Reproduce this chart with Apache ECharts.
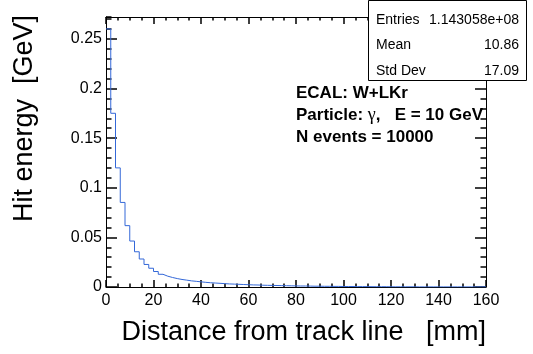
<!DOCTYPE html>
<html>
<head>
<meta charset="utf-8">
<script src="https://cdn.jsdelivr.net/npm/echarts@6/dist/echarts.min.js"></script>
<style>
  html, body { margin: 0; padding: 0; background: #ffffff; }
  #chart { width: 533px; height: 354px; }
</style>
</head>
<body>
<div id="chart"></div>
<script>
// Hit energy deposited per 2 mm bin of distance from the track line (0..160 mm)
const binWidth = 2;
const hitEnergy = [
  0.2600, 0.1750, 0.1200, 0.0852, 0.0618, 0.0463, 0.0355, 0.0282, 0.0227, 0.0189,
  0.0156, 0.0128, 0.0109, 0.0096, 0.0085, 0.0076, 0.0069, 0.0062, 0.0057, 0.0052,
  0.0047, 0.0043, 0.0040, 0.0037, 0.0034, 0.0031, 0.0029, 0.0027, 0.0025, 0.0023,
  0.0021, 0.0020, 0.0018, 0.0017, 0.0016, 0.0015, 0.0014, 0.0013, 0.0012, 0.0011,
  0.0010, 0.0010, 0.0009, 0.0008, 0.0008, 0.0007, 0.0007, 0.0006, 0.0006, 0.0005,
  0.0005, 0.0005, 0.0004, 0.0004, 0.0004, 0.0003, 0.0003, 0.0003, 0.0003, 0.0002,
  0.0002, 0.0002, 0.0002, 0.0002, 0.0002, 0.0001, 0.0001, 0.0001, 0.0001, 0.0001,
  0.0001, 0.0001, 0.0001, 0.0001, 0.0001, 0.0001, 0.0001, 0.0001, 0.0001, 0.0001
];

const xRange = [0, 160];
const yRange = [0, 0.272];
const xTickStep = 20;
const yTickStep = 0.05;
const yMinorStep = 0.01;

const xTitle = 'Distance from track line   [mm]';
const yTitle = 'Hit energy  [GeV]';

const statNames = ['Entries', 'Mean', 'Std Dev'];
const statValues = ['1.143058e+08', '10.86', '17.09'];

const FONT = '"Liberation Sans", Arial, Helvetica, sans-serif';
const lineColor = '#3468d8';
const tickColor = '#000000';
const tickWidth = 1.5;

// step outline: each bin's left edge carries its content, closed at the last upper edge
const outline = hitEnergy.map((v, i) => [i * binWidth, v]);
outline.push([hitEnergy.length * binWidth, hitEnergy[hitEnergy.length - 1]]);

const chart = echarts.init(document.getElementById('chart'));

function xAxisDef(pos, labels) {
  return {
    type: 'value', position: pos, min: xRange[0], max: xRange[1], interval: xTickStep,
    axisLine: { show: true, onZero: false, lineStyle: { color: '#000', width: 1 } },
    axisTick: { show: true, inside: true, length: 7, lineStyle: { color: tickColor, width: tickWidth } },
    minorTick: { show: true, splitNumber: 4, length: 3.5, lineStyle: { color: tickColor, width: tickWidth } },
    splitLine: { show: false }, minorSplitLine: { show: false },
    axisLabel: { show: labels, color: '#000', fontFamily: FONT, fontSize: 16, margin: 6 }
  };
}
function yAxisDef(pos, step, tickLen, labels, showLine) {
  return {
    type: 'value', position: pos, min: yRange[0], max: yRange[1], interval: step,
    axisLine: { show: showLine, onZero: false, lineStyle: { color: '#000', width: 1 } },
    axisTick: { show: true, inside: true, length: tickLen, lineStyle: { color: tickColor, width: tickWidth } },
    splitLine: { show: false },
    axisLabel: { show: labels, color: '#000', fontFamily: FONT, fontSize: 16, margin: 4, showMaxLabel: false }
  };
}

const infoX = 296;
const infoFont = 'bold 17px ' + FONT;

const graphics = [
  // axis titles
  { type: 'text', x: 486, y: 333, z: 10,
    style: { text: xTitle, font: '27px ' + FONT, fill: '#000',
             align: 'right', textAlign: 'right', verticalAlign: 'middle', textVerticalAlign: 'middle' } },
  { type: 'text', x: 25, y: 15, rotation: Math.PI / 2, z: 10,
    style: { text: yTitle, font: '27px ' + FONT, fill: '#000',
             align: 'right', textAlign: 'right', verticalAlign: 'middle', textVerticalAlign: 'middle' } },
  // annotation
  { type: 'text', x: infoX, y: 93, z: 10,
    style: { text: 'ECAL: W+LKr', font: infoFont, fill: '#000', verticalAlign: 'middle', textVerticalAlign: 'middle' } },
  { type: 'text', x: infoX, y: 115, z: 10,
    style: { text: '{b|Particle: }{g|γ}{b|,   E = 10 GeV}', fill: '#000', verticalAlign: 'middle', textVerticalAlign: 'middle',
             rich: { b: { fontFamily: FONT, fontSize: 17, fontWeight: 'bold', fill: '#000' },
                     g: { fontFamily: '"Liberation Serif", serif', fontSize: 18, fill: '#000' } } } },
  { type: 'text', x: infoX, y: 137, z: 10,
    style: { text: 'N events = 10000', font: infoFont, fill: '#000', verticalAlign: 'middle', textVerticalAlign: 'middle' } },
  // statistics box
  { type: 'rect', z: 20, shape: { x: 368.5, y: 0.5, width: 158, height: 80 },
    style: { fill: '#fff', stroke: '#000', lineWidth: 1 } }
];
statNames.forEach((name, i) => {
  const y = 20 + i * 25.5;
  graphics.push({ type: 'text', x: 376, y: y, z: 21,
    style: { text: name, font: '14px ' + FONT, fill: '#000', verticalAlign: 'middle', textVerticalAlign: 'middle' } });
  graphics.push({ type: 'text', x: 519, y: y, z: 21,
    style: { text: statValues[i], font: '14px ' + FONT, fill: '#000',
             align: 'right', textAlign: 'right', verticalAlign: 'middle', textVerticalAlign: 'middle' } });
});

chart.setOption({
  animation: false,
  grid: { left: 106, right: 47, top: 17, bottom: 67, containLabel: false },
  xAxis: [ xAxisDef('bottom', true), xAxisDef('top', false) ],
  yAxis: [
    yAxisDef('left', yTickStep, 11, true, true),
    yAxisDef('left', yMinorStep, 5.5, false, false),
    yAxisDef('right', yTickStep, 11, false, true),
    yAxisDef('right', yMinorStep, 5.5, false, false)
  ],
  series: [{
    type: 'line', xAxisIndex: 0, yAxisIndex: 0,
    step: 'end', symbol: 'none', clip: true,
    lineStyle: { color: lineColor, width: 1 },
    data: outline, z: 3
  }],
  graphic: graphics
});
</script>
</body>
</html>
